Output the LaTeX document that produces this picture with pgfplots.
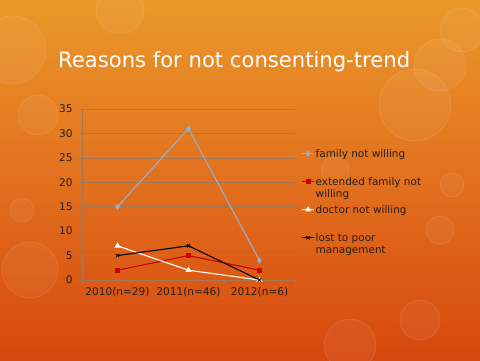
\documentclass[border=0pt]{standalone}
\usepackage{pgfplots}
\pgfplotsset{compat=1.18}
\usepackage{fontspec}
\setmainfont{DejaVu Sans}
\definecolor{bgtop}{RGB}{234,152,42}
\definecolor{bgmid}{RGB}{226,112,30}
\definecolor{bgbot}{RGB}{214,72,14}
\definecolor{famc}{RGB}{150,175,205}
\definecolor{extc}{RGB}{204,0,0}
\definecolor{txtc}{RGB}{38,30,25}
\definecolor{gridc}{RGB}{165,120,85}
\newcommand{\legbox}[1]{\parbox[t]{115bp}{#1}}
\begin{document}
\begin{tikzpicture}[x=1bp,y=1bp]
\useasboundingbox (0,0) rectangle (480,360);
\shade[top color=bgtop, bottom color=bgbot, middle color=bgmid] (0,0) rectangle (480,360);
\begin{scope}[white, fill opacity=0.05, draw opacity=0.13, line width=0.6bp]
\filldraw (12,310) circle (34);
\filldraw (38,245) circle (20);
\filldraw (22,150) circle (12);
\filldraw (30,90) circle (28);
\filldraw (440,295) circle (26);
\filldraw (415,255) circle (36);
\filldraw (462,330) circle (22);
\filldraw (452,175) circle (12);
\filldraw (440,130) circle (14);
\filldraw (420,40) circle (20);
\filldraw (350,15) circle (26);
\filldraw (335,190) circle (14);
\filldraw (120,350) circle (24);
\end{scope}
\node[anchor=base west, text=white, font=\fontsize{21.2}{25}\selectfont, inner sep=0pt] at (58,293) {Reasons for not consenting-trend};
\begin{axis}[
  at={(82bp,80bp)}, anchor=south west,
  scale only axis, width=213bp, height=171bp,
  xmin=-0.5, xmax=2.5, ymin=0, ymax=35,
  xtick={0,1,2},
  xticklabels={2010(n=29),2011(n=46),2012(n=6)},
  minor xtick={-0.5,0.5,1.5,2.5},
  ytick={0,5,...,35},
  /pgf/number format/assume math mode=true,
  tick align=outside,
  major tick length=3bp,
  minor tick length=4bp,
  x tick style={draw=none},
  minor x tick style={draw=gridc},
  y tick style={draw=gridc},
  ymajorgrids,
  grid style={gridc, line width=0.6bp},
  axis x line*=bottom,
  axis y line*=left,
  axis line style={gridc, line width=0.6bp},
  tick label style={font=\fontsize{10.6}{12}\selectfont, text=txtc},
  xticklabel style={yshift=-1bp},
  yticklabel style={xshift=-3bp},
  legend style={at={(1.03,0.772)}, anchor=north west, draw=none, fill=none,
    inner sep=0pt, row sep=0pt, column sep=1bp,
    font=\fontsize{10.5}{12.5}\selectfont, text=txtc,
    cells={anchor=base west}, nodes={inner sep=0pt, text height=9bp, text depth=19bp}},
  legend image code/.code={\draw[mark repeat=2,mark phase=2] plot coordinates {(0bp,3.5bp) (6bp,3.5bp) (12bp,3.5bp)};},
]
\addplot[famc, line width=1.1bp, mark=diamond*, mark size=2.2bp] coordinates {(0,15) (1,31) (2,4)};
\addplot[extc, line width=1.1bp, mark=square*, mark size=2bp] coordinates {(0,2) (1,5) (2,2)};
\addplot[white, line width=1.1bp, mark=triangle*, mark size=2.4bp] coordinates {(0,7) (1,2) (2,0)};
\addplot[black, line width=1.1bp, mark=x, mark size=2.4bp, mark options={line width=0.8bp}] coordinates {(0,5) (1,7) (2,0)};
\legend{\legbox{family not willing},\legbox{extended family not\newline willing},\legbox{doctor not willing},\legbox{lost to poor\newline management}}
\end{axis}
\end{tikzpicture}
\end{document}
